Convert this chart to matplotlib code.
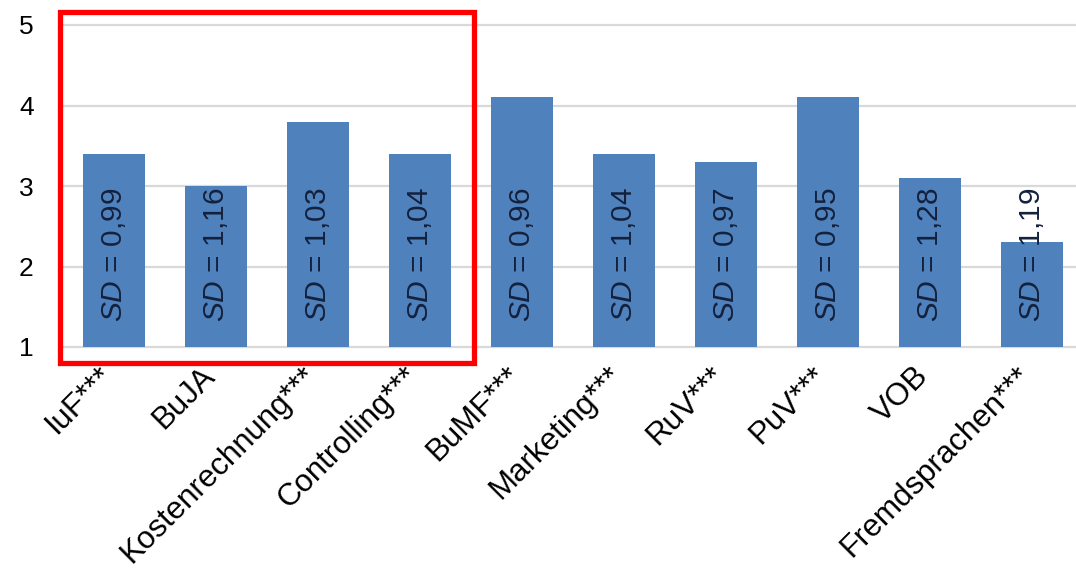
import matplotlib
matplotlib.use("Agg")
import matplotlib.pyplot as plt
from matplotlib.patches import Rectangle

plt.rcParams['font.family'] = ['Liberation Sans', 'DejaVu Sans']
plt.rcParams['mathtext.fontset'] = 'custom'
plt.rcParams['mathtext.it'] = 'Liberation Sans:italic'
plt.rcParams['mathtext.rm'] = 'Liberation Sans'

categories = ["IuF***", "BuJA", "Kostenrechnung***", "Controlling***", "BuMF***",
              "Marketing***", "RuV***", "PuV***", "VOB", "Fremdsprachen***"]
means = [3.4, 3.0, 3.8, 3.4, 4.1, 3.4, 3.3, 4.1, 3.1, 2.3]
sds = ["0,99", "1,16", "1,03", "1,04", "0,96", "1,04", "0,97", "0,95", "1,28", "1,19"]
y_ticks = [1, 2, 3, 4, 5]
baseline = 1

fig = plt.figure(figsize=(10.76, 5.72), dpi=100)
ax = fig.add_axes([63 / 1076, 225 / 572, 1020 / 1076, 322 / 572])

x = list(range(len(categories)))
heights = [m - baseline for m in means]
ax.bar(x, heights, bottom=baseline, width=0.6, color="#4f81bd", zorder=3)

for xi, sd in zip(x, sds):
    ax.annotate(r"$\it{SD}$ = " + sd, xy=(xi, baseline), xytext=(0, 18),
                textcoords="offset points", rotation=90, ha="center", va="bottom",
                fontsize=21.5, color="#14213d", zorder=4)

ax.set_xlim(-0.5, len(categories) - 0.5)
ax.set_ylim(1, 5)
ax.set_yticks(y_ticks)
ax.set_yticklabels([str(t) for t in y_ticks], fontsize=19)
ax.yaxis.grid(True, color="#d9d9d9", linewidth=1.6, zorder=0)
for gl in ax.yaxis.get_gridlines():
    gl.set_clip_on(False)
ax.tick_params(axis="y", length=0, pad=21)
ax.tick_params(axis="x", length=0)
ax.set_xticks(x)
ax.set_xticklabels(categories, rotation=45, ha="right", va="center",
                   rotation_mode="anchor", fontsize=22.5)
for lbl in ax.get_xticklabels():
    lbl.set_transform(lbl.get_transform() +
                      matplotlib.transforms.ScaledTranslation(-0.06, -0.2, fig.dpi_scale_trans))
for s in ax.spines.values():
    s.set_visible(False)

# frame around the first group of subjects
ax.add_patch(Rectangle((-0.53, 0.80), 4.06, 4.36, fill=False, edgecolor="#ff0000",
                       linewidth=3.8, clip_on=False, zorder=5))

fig.savefig("out.png", dpi=100)
